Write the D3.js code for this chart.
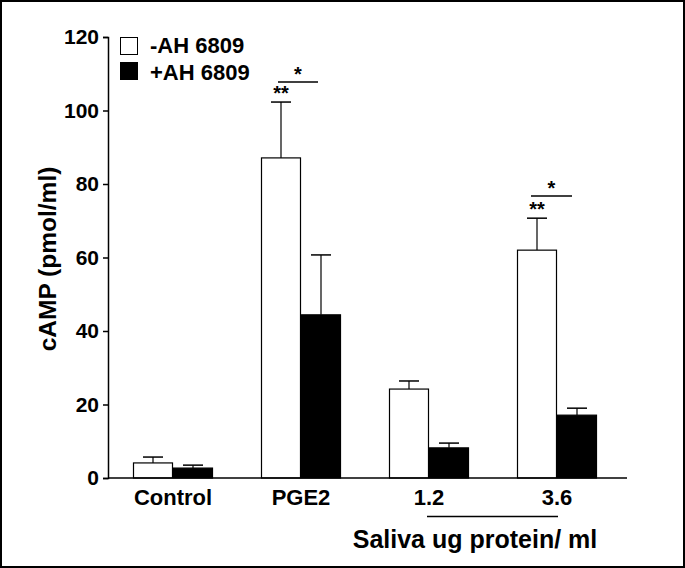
<!DOCTYPE html>
<html><head><meta charset="utf-8">
<script src="https://cdn.jsdelivr.net/npm/d3@7"></script>
<style>body{margin:0;background:#fff}svg{display:block}text{font-family:"Liberation Sans",Arial,sans-serif;font-weight:bold}</style>
</head><body>
<svg id="c" width="685" height="568"></svg>
<script>
const categories = ["Control", "PGE2", "1.2", "3.6"];
const series = ["-AH 6809", "+AH 6809"];
const valuesMinus = [4.1, 87.1, 24.2, 62.0];
const errMinus = [1.6, 15.2, 2.2, 8.7];
const valuesPlus = [2.7, 44.4, 8.2, 17.1];
const errPlus = [0.8, 16.3, 1.3, 1.9];
const yTicks = [0, 20, 40, 60, 80, 100, 120];

const svg = d3.select("#c");
svg.append("rect").attr("x",1).attr("y",1).attr("width",683).attr("height",566)
  .attr("fill","#fff").attr("stroke","#000").attr("stroke-width",2);

const x = d3.scaleBand().domain(categories).range([109, 621]).paddingInner(0.375).paddingOuter(0.1875);
const xs = d3.scaleBand().domain(series).range([0, x.bandwidth()]);
const y = d3.scaleLinear().domain([0, 120]).range([478, 37]);

const data = categories.map((c,i)=>[
  {c, s:series[0], v:valuesMinus[i], e:errMinus[i], fill:"#fff"},
  {c, s:series[1], v:valuesPlus[i], e:errPlus[i], fill:"#000"}
]).flat();

const g = svg.append("g");
const eb = g.selectAll(".eb").data(data).enter().append("g");
eb.append("line")
  .attr("x1", d=>x(d.c)+xs(d.s)+xs.bandwidth()/2).attr("x2", d=>x(d.c)+xs(d.s)+xs.bandwidth()/2)
  .attr("y1", d=>y(d.v)).attr("y2", d=>y(d.v+d.e)).attr("stroke","#000").attr("stroke-width",1.2);
eb.append("line")
  .attr("x1", d=>x(d.c)+xs(d.s)+xs.bandwidth()/2-10).attr("x2", d=>x(d.c)+xs(d.s)+xs.bandwidth()/2+10)
  .attr("y1", d=>y(d.v+d.e)).attr("y2", d=>y(d.v+d.e)).attr("stroke","#000").attr("stroke-width",1.5);

g.selectAll(".bar").data(data).enter().append("rect")
  .attr("x", d=>x(d.c)+xs(d.s)+0.5).attr("y", d=>y(d.v))
  .attr("width", xs.bandwidth()-1).attr("height", d=>y(0)-y(d.v))
  .attr("fill", d=>d.fill).attr("stroke","#000").attr("stroke-width",1.2);

// y axis
const ya = svg.append("g").attr("transform","translate(108,0)")
  .call(d3.axisLeft(y).tickValues(yTicks).tickSize(5).tickPadding(4));
ya.select(".domain").attr("stroke-width",1.5);
ya.selectAll(".tick line").attr("stroke-width",1.5);
ya.selectAll("text").style("font-size","21px").style("font-family","Liberation Sans, Arial, sans-serif").style("font-weight","bold").attr("fill","#000");

// x axis
svg.append("line").attr("x1",108).attr("x2",627).attr("y1",y(0)).attr("y2",y(0)).attr("stroke","#000").attr("stroke-width",1.5);
svg.selectAll(".xl").data(categories).enter().append("text")
  .attr("x", d=>x(d)+x.bandwidth()/2).attr("y", 505).attr("text-anchor","middle")
  .style("font-size","22px").text(d=>d);

svg.append("line").attr("x1",x("1.2")+x.bandwidth()/2-2).attr("x2",x("3.6")+x.bandwidth()/2+1)
  .attr("y1",516.5).attr("y2",516.5).attr("stroke","#000").attr("stroke-width",1.5);
svg.append("text").attr("x",475).attr("y",548).attr("text-anchor","middle").style("font-size","25px").text("Saliva ug protein/ ml");

svg.append("text").attr("transform","translate(56,259) rotate(-90)").attr("text-anchor","middle")
  .style("font-size","24.5px").text("cAMP (pmol/ml)");

// legend
const lg = svg.append("g");
series.forEach((s,i)=>{
  lg.append("rect").attr("x",120.5).attr("y",37.5+i*25).attr("width",17).attr("height",17)
    .attr("fill", i?"#000":"#fff").attr("stroke","#000").attr("stroke-width",1);
  lg.append("text").attr("x",150).attr("y",53+i*27).style("font-size","22px").text(s);
});

// significance
function sig(cat, lineX1, lineX2, lineY){
  const cx = x(cat)+xs(series[0])+xs.bandwidth()/2;
  const i = categories.indexOf(cat);
  const top = y(valuesMinus[i]+errMinus[i]);
  svg.append("text").attr("x",cx).attr("y",top-2).attr("text-anchor","middle").style("font-size","20px").text("**");
  svg.append("line").attr("x1",lineX1).attr("x2",lineX2).attr("y1",lineY).attr("y2",lineY).attr("stroke","#000").attr("stroke-width",1.5);
  svg.append("text").attr("x",(lineX1+lineX2)/2).attr("y",lineY-1).attr("text-anchor","middle").style("font-size","20px").text("*");
}
sig("PGE2", 278, 318, 82);
sig("3.6", 531, 572, 196);
</script>
</body></html>
